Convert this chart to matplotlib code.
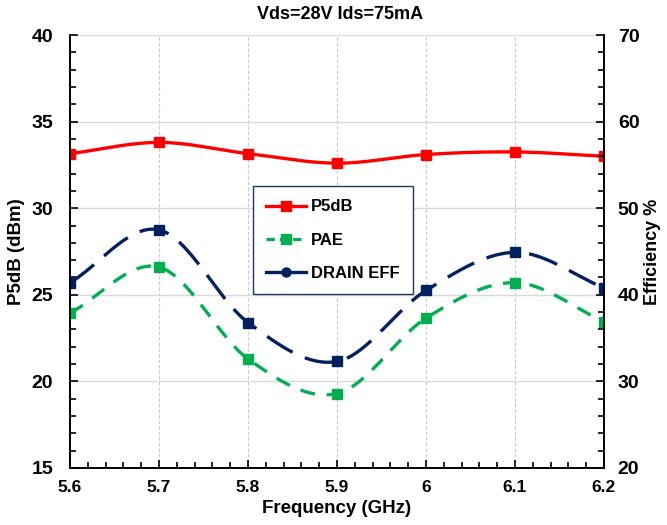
import numpy as np
import matplotlib.pyplot as plt
from matplotlib.lines import Line2D
from matplotlib.ticker import MultipleLocator

plt.rcParams["font.family"] = ["Liberation Sans", "DejaVu Sans"]
plt.rcParams["font.weight"] = "bold"

# data
freq = [5.6, 5.7, 5.8, 5.9, 6.0, 6.1, 6.2]
p5db = [33.15, 33.8, 33.15, 32.6, 33.1, 33.25, 33.0]
pae = [37.9, 43.2, 32.6, 28.6, 37.3, 41.4, 36.9]
drain_eff = [41.4, 47.5, 36.8, 32.3, 40.5, 44.9, 40.8]
xtick_labels = ["5.6", "5.7", "5.8", "5.9", "6", "6.1", "6.2"]


def smooth(x, y, n=30):
    # Catmull-Rom curve through the points, like Excel's smoothed line
    x = np.asarray(x, float)
    y = np.asarray(y, float)
    px = np.concatenate([[2 * x[0] - x[1]], x, [2 * x[-1] - x[-2]]])
    py = np.concatenate([[2 * y[0] - y[1]], y, [2 * y[-1] - y[-2]]])
    xs, ys = [], []
    t = np.linspace(0, 1, n, endpoint=False)
    for i in range(1, len(px) - 2):
        for p, out in ((px, xs), (py, ys)):
            p0, p1, p2, p3 = p[i - 1], p[i], p[i + 1], p[i + 2]
            out.extend(0.5 * (2 * p1 + (-p0 + p2) * t
                              + (2 * p0 - 5 * p1 + 4 * p2 - p3) * t ** 2
                              + (-p0 + 3 * p1 - 3 * p2 + p3) * t ** 3))
    xs.append(x[-1])
    ys.append(y[-1])
    return np.array(xs), np.array(ys)


red = "#FF0000"
green = "#00B050"
navy = "#002060"

fig = plt.figure(figsize=(6.67, 5.25), dpi=100)
ax = fig.add_axes([0.105, 0.1086, 0.8005, 0.8247])
ax2 = ax.twinx()

ax.set_xlim(5.6, 6.2)
ax.set_ylim(15, 40)
ax2.set_ylim(20, 70)

ax.xaxis.set_major_locator(MultipleLocator(0.1))
ax.xaxis.set_minor_locator(MultipleLocator(0.02))
ax.yaxis.set_major_locator(MultipleLocator(5))
ax.yaxis.set_minor_locator(MultipleLocator(1))
ax2.yaxis.set_major_locator(MultipleLocator(10))
ax2.yaxis.set_minor_locator(MultipleLocator(2))
ax.set_xticks(freq)
ax.set_xticklabels(xtick_labels)

ax.grid(axis="y", which="major", color="#D9D9D9", lw=1.0, ls="-")
ax.grid(axis="x", which="major", color="#C8C8C8", lw=0.8, ls=(0, (3, 2)))
ax.set_axisbelow(True)

for a in (ax, ax2):
    a.tick_params(which="both", direction="in", width=1.2)
    a.tick_params(which="major", length=6)
    a.tick_params(which="minor", length=4)
    for s in a.spines.values():
        s.set_linewidth(1.2)
ax.tick_params(axis="x", pad=9, labelsize=12.5)
ax.tick_params(axis="y", pad=12, labelsize=14)
ax2.tick_params(axis="y", pad=10, labelsize=14)
ax2.spines["top"].set_visible(False)
ax.spines["top"].set_visible(False)

sx, sy = smooth(freq, p5db)
ax.plot(sx, sy, color=red, lw=2.4, solid_capstyle="butt")
ax.plot(freq, p5db, ls="none", marker="s", ms=7, color=red)

sx, sy = smooth(freq, pae)
ax2.plot(sx, sy, color=green, lw=2.4, ls=(0, (4.5, 3.5)))
ax2.plot(freq, pae, ls="none", marker="s", ms=7, color=green)

sx, sy = smooth(freq, drain_eff)
ax2.plot(sx, sy, color=navy, lw=2.4, ls=(0, (9, 4)))
ax2.plot(freq, drain_eff, ls="none", marker="s", ms=7, color=navy)

ax.set_xlabel("Frequency (GHz)", fontsize=13.5, fontweight="bold", labelpad=3)
ax.set_ylabel("P5dB (dBm)", fontsize=13.5, fontweight="bold", labelpad=5)
ax2.set_ylabel("Efficiency %", fontsize=13, fontweight="bold", labelpad=3)
fig.text(0.51, 0.972, "Vds=28V Ids=75mA", ha="center", va="center",
         fontsize=13, fontweight="bold")

handles = [
    Line2D([], [], color=red, lw=2.4, marker="s", ms=6.5),
    Line2D([], [], color=green, lw=2.4, ls=(0, (2.5, 1.5)), marker="s", ms=6.5),
    Line2D([], [], color=navy, lw=2.4, marker="o", ms=6.5),
]
leg = ax2.legend(handles, ["P5dB", "PAE", "DRAIN EFF"], loc="upper left",
                 bbox_to_anchor=(0.3425, 0.651), frameon=True, fancybox=False,
                 edgecolor="#1F3864", framealpha=1, fontsize=12,
                 handlelength=2.4, labelspacing=1.1, borderpad=0.8,
                 handletextpad=0.3, borderaxespad=0)
leg.get_frame().set_linewidth(1.0)
for t in leg.get_texts():
    t.set_fontweight("bold")

fig.savefig("out.png", dpi=100)
